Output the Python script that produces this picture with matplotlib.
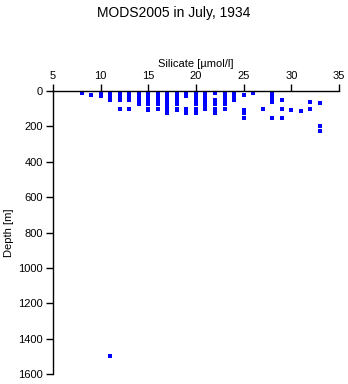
import matplotlib
matplotlib.use("Agg")
import matplotlib.pyplot as plt

plt.rcParams['font.family'] = ['Liberation Sans', 'DejaVu Sans']

# Silicate value (µmol/l) for each column of casts and the depths (m) sampled there
silicate = [8, 9, 10, 11, 12, 13, 14, 15, 16, 17, 18, 19, 20, 21, 22, 23, 24,
            25, 26, 27, 28, 29, 30, 31, 32, 33]
depths = [
    [10],
    [20],
    [10, 20, 30],
    [0, 10, 20, 30, 50, 1500],
    [0, 10, 20, 30, 50, 100],
    [0, 10, 20, 30, 50, 100],
    [0, 10, 20, 30, 50, 75],
    [0, 10, 20, 30, 50, 75, 100, 110],
    [0, 10, 20, 30, 50, 75, 100],
    [0, 10, 20, 30, 50, 60, 75, 90, 100, 115, 125],
    [0, 10, 20, 30, 50, 60, 75, 100, 110],
    [0, 10, 20, 30, 100, 125],
    [0, 10, 20, 30, 50, 75, 100, 110, 125],
    [0, 10, 20, 30, 50, 75, 90, 100],
    [10, 50, 75, 100, 125],
    [0, 10, 20, 30, 50, 75, 100],
    [10, 20, 30, 50],
    [20, 110, 125, 150],
    [10],
    [100],
    [10, 20, 30, 50, 60, 150],
    [50, 100, 150],
    [105],
    [115],
    [60, 100],
    [70, 200, 225],
]

xs, ys = [], []
for s, ds in zip(silicate, depths):
    for d in ds:
        xs.append(s)
        ys.append(d)

fig = plt.figure(figsize=(3.48, 3.84), dpi=100)
ax = fig.add_axes([0.152, 0.026, 0.822, 0.737])

ax.plot(xs, ys, linestyle='none', marker='s', markersize=2.3,
        color='#0000ff', markeredgewidth=0)

ax.set_xlim(5, 35)
ax.set_ylim(1600, 0)
ax.set_xticks(range(5, 36, 5))
ax.set_yticks(range(0, 1601, 200))

ax.xaxis.set_ticks_position('top')
ax.xaxis.set_label_position('top')
ax.spines['right'].set_visible(False)
ax.spines['bottom'].set_visible(False)
for sp in ('top', 'left'):
    ax.spines[sp].set_linewidth(1.0)
ax.tick_params(axis='both', direction='out', length=5, width=1.0,
               labelsize=8, pad=2)

ax.set_xlabel('Silicate [µmol/l]', fontsize=8, labelpad=3)
ax.set_ylabel('Depth [m]', fontsize=8, labelpad=3)

fig.suptitle('MODS2005 in July, 1934', fontsize=10, y=0.985)

fig.savefig('out.png', dpi=100)
